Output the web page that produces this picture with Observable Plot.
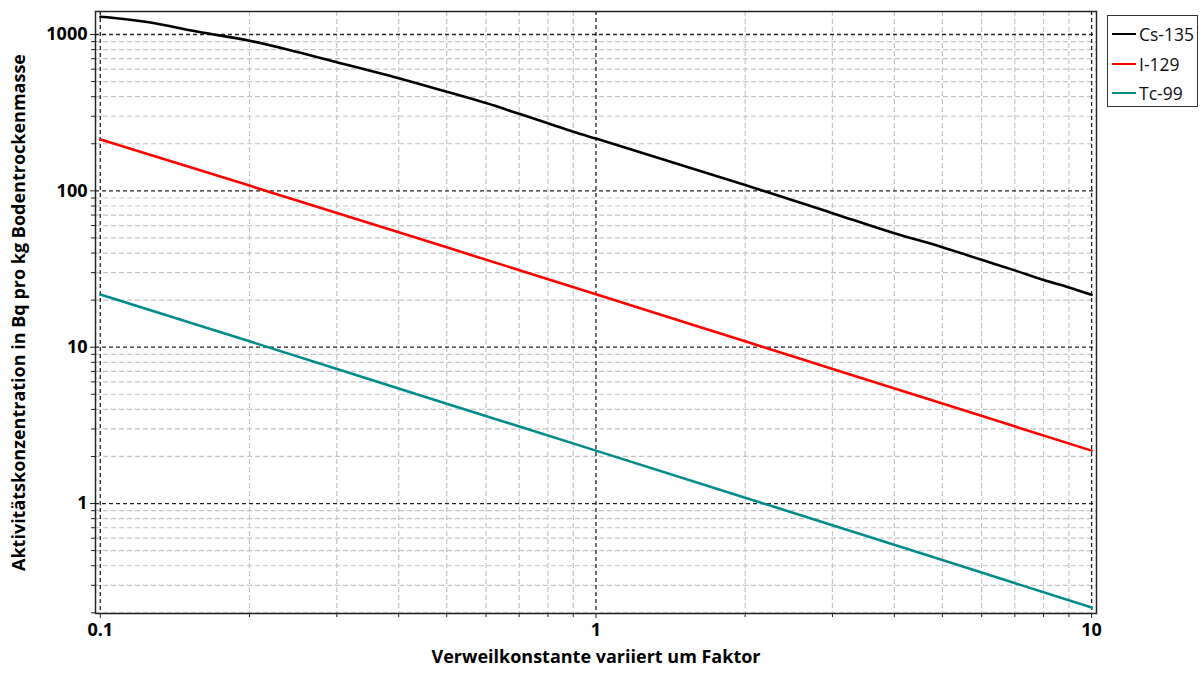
<!DOCTYPE html>
<html>
<head>
<meta charset="utf-8">
<script src="https://cdn.jsdelivr.net/npm/d3@7"></script>
<script src="https://cdn.jsdelivr.net/npm/@observablehq/plot@0.6"></script>
<style>
  html, body { margin: 0; padding: 0; background: #fff; }
  #wrap { position: relative; width: 1204px; height: 673px; font-family: "Open Sans", "Noto Sans", sans-serif; }
  #legend { position: absolute; left: 1107px; top: 15px; width: 89px; height: 90px; border: 1.5px solid #333; background: #fff; }
  .item { position: absolute; left: 4px; height: 20px; display: flex; align-items: center; font-size: 17.5px; color: #111; white-space: nowrap; }
  .item span.sw { display: inline-block; width: 24px; height: 0; border-top: 2.5px solid; margin-right: 3px; }
</style>
</head>
<body>
<div id="wrap"></div>
<script>
// ---- data ----
const seriesNames = ["Cs-135", "I-129", "Tc-99"];
const seriesColors = ["#000000", "#ff0000", "#008b8b"];

const csX = [0.1, 0.1056, 0.1233, 0.1604, 0.2, 0.246, 0.3, 0.4, 0.5, 0.6, 0.7, 0.8, 0.9, 1, 2, 3, 4, 5, 6, 7, 8, 9, 10];
const csY = [1298, 1280, 1206, 1030, 912, 782, 665, 525, 430, 364, 311, 271, 239, 216, 109, 72, 53.5, 43.6, 36.2, 31, 26.9, 24.1, 21.6];

const iX = [0.1, 0.2, 0.5, 1, 2, 5, 10];
const iY = [213, 108, 43.5, 21.8, 10.9, 4.36, 2.18];

const tcX = [0.1, 0.2, 0.5, 1, 2, 5, 10];
const tcY = [21.7, 10.9, 4.35, 2.18, 1.09, 0.435, 0.216];

const xMajor = [0.1, 1, 10];
const xMinor = [0.2, 0.3, 0.4, 0.5, 0.6, 0.7, 0.8, 0.9, 2, 3, 4, 5, 6, 7, 8, 9];
const yMajor = [1, 10, 100, 1000];
const yMinor = [0.2, 0.3, 0.4, 0.5, 0.6, 0.7, 0.8, 0.9, 2, 3, 4, 5, 6, 7, 8, 9,
                20, 30, 40, 50, 60, 70, 80, 90, 200, 300, 400, 500, 600, 700, 800, 900];

const xTitle = "Verweilkonstante variiert um Faktor";
const yTitle = "Aktivitätskonzentration in Bq pro kg Bodentrockenmasse";

// ---- build table ----
const rows = [];
[[csX, csY], [iX, iY], [tcX, tcY]].forEach(([xs, ys], k) => {
  xs.forEach((x, i) => rows.push({ series: seriesNames[k], x, y: ys[i] }));
});

const font = '"Open Sans", "Noto Sans", sans-serif';

const chart = Plot.plot({
  width: 1204,
  height: 673,
  marginLeft: 95,
  marginRight: 108,
  marginTop: 11,
  marginBottom: 60,
  style: { fontFamily: font, fontSize: "16px", color: "#000", background: "#fff" },
  x: { type: "log", domain: [0.0978, 10.23], axis: null },
  y: { type: "log", domain: [0.198, 1403], axis: null },
  color: { domain: seriesNames, range: seriesColors },
  marks: [
    Plot.gridX(xMinor, { stroke: "#c4c4c4", strokeOpacity: 1, strokeWidth: 1.2, strokeDasharray: "5,3" }),
    Plot.gridY(yMinor, { stroke: "#c4c4c4", strokeOpacity: 1, strokeWidth: 1.2, strokeDasharray: "5,3" }),
    Plot.gridX(xMajor, { stroke: "#222", strokeOpacity: 1, strokeWidth: 1.3, strokeDasharray: "4,3" }),
    Plot.gridY(yMajor, { stroke: "#222", strokeOpacity: 1, strokeWidth: 1.3, strokeDasharray: "4,3" }),
    Plot.axisX(xMinor, { anchor: "bottom", tickSize: 4, text: null, label: null, stroke: "#222" }),
    Plot.axisY(yMinor, { anchor: "left", tickSize: 4, text: null, label: null, stroke: "#222" }),
    Plot.axisX(xMajor, { anchor: "bottom", tickSize: 5, tickPadding: 5, tickFormat: d => String(d), label: null, fontWeight: "bold", fontSize: 18, stroke: "#222" }),
    Plot.axisY(yMajor, { anchor: "left", tickSize: 5, tickPadding: 3, tickFormat: d => String(d), label: null, fontWeight: "bold", fontSize: 18, stroke: "#222" }),
    Plot.line(rows, { x: "x", y: "y", z: "series", stroke: "series", strokeWidth: 2.6, curve: "monotone-x" }),
    Plot.frame({ stroke: "#222", strokeWidth: 1.5 }),
    Plot.text([xTitle], { frameAnchor: "bottom", dy: 49, fontWeight: "bold", fontSize: 18, fill: "#000" }),
    Plot.text([yTitle], { frameAnchor: "left", textAnchor: "middle", dx: -76, rotate: -90, fontWeight: "bold", fontSize: 18, fill: "#000" })
  ]
});

const wrap = document.getElementById("wrap");
wrap.appendChild(chart);

const legend = document.createElement("div");
legend.id = "legend";
seriesNames.forEach((name, i) => {
  const item = document.createElement("div");
  item.className = "item";
  item.style.top = (8 + i * 29.5) + "px";
  const sw = document.createElement("span");
  sw.className = "sw";
  sw.style.borderTopColor = seriesColors[i];
  item.appendChild(sw);
  item.appendChild(document.createTextNode(name));
  legend.appendChild(item);
});
wrap.appendChild(legend);
</script>
</body>
</html>
